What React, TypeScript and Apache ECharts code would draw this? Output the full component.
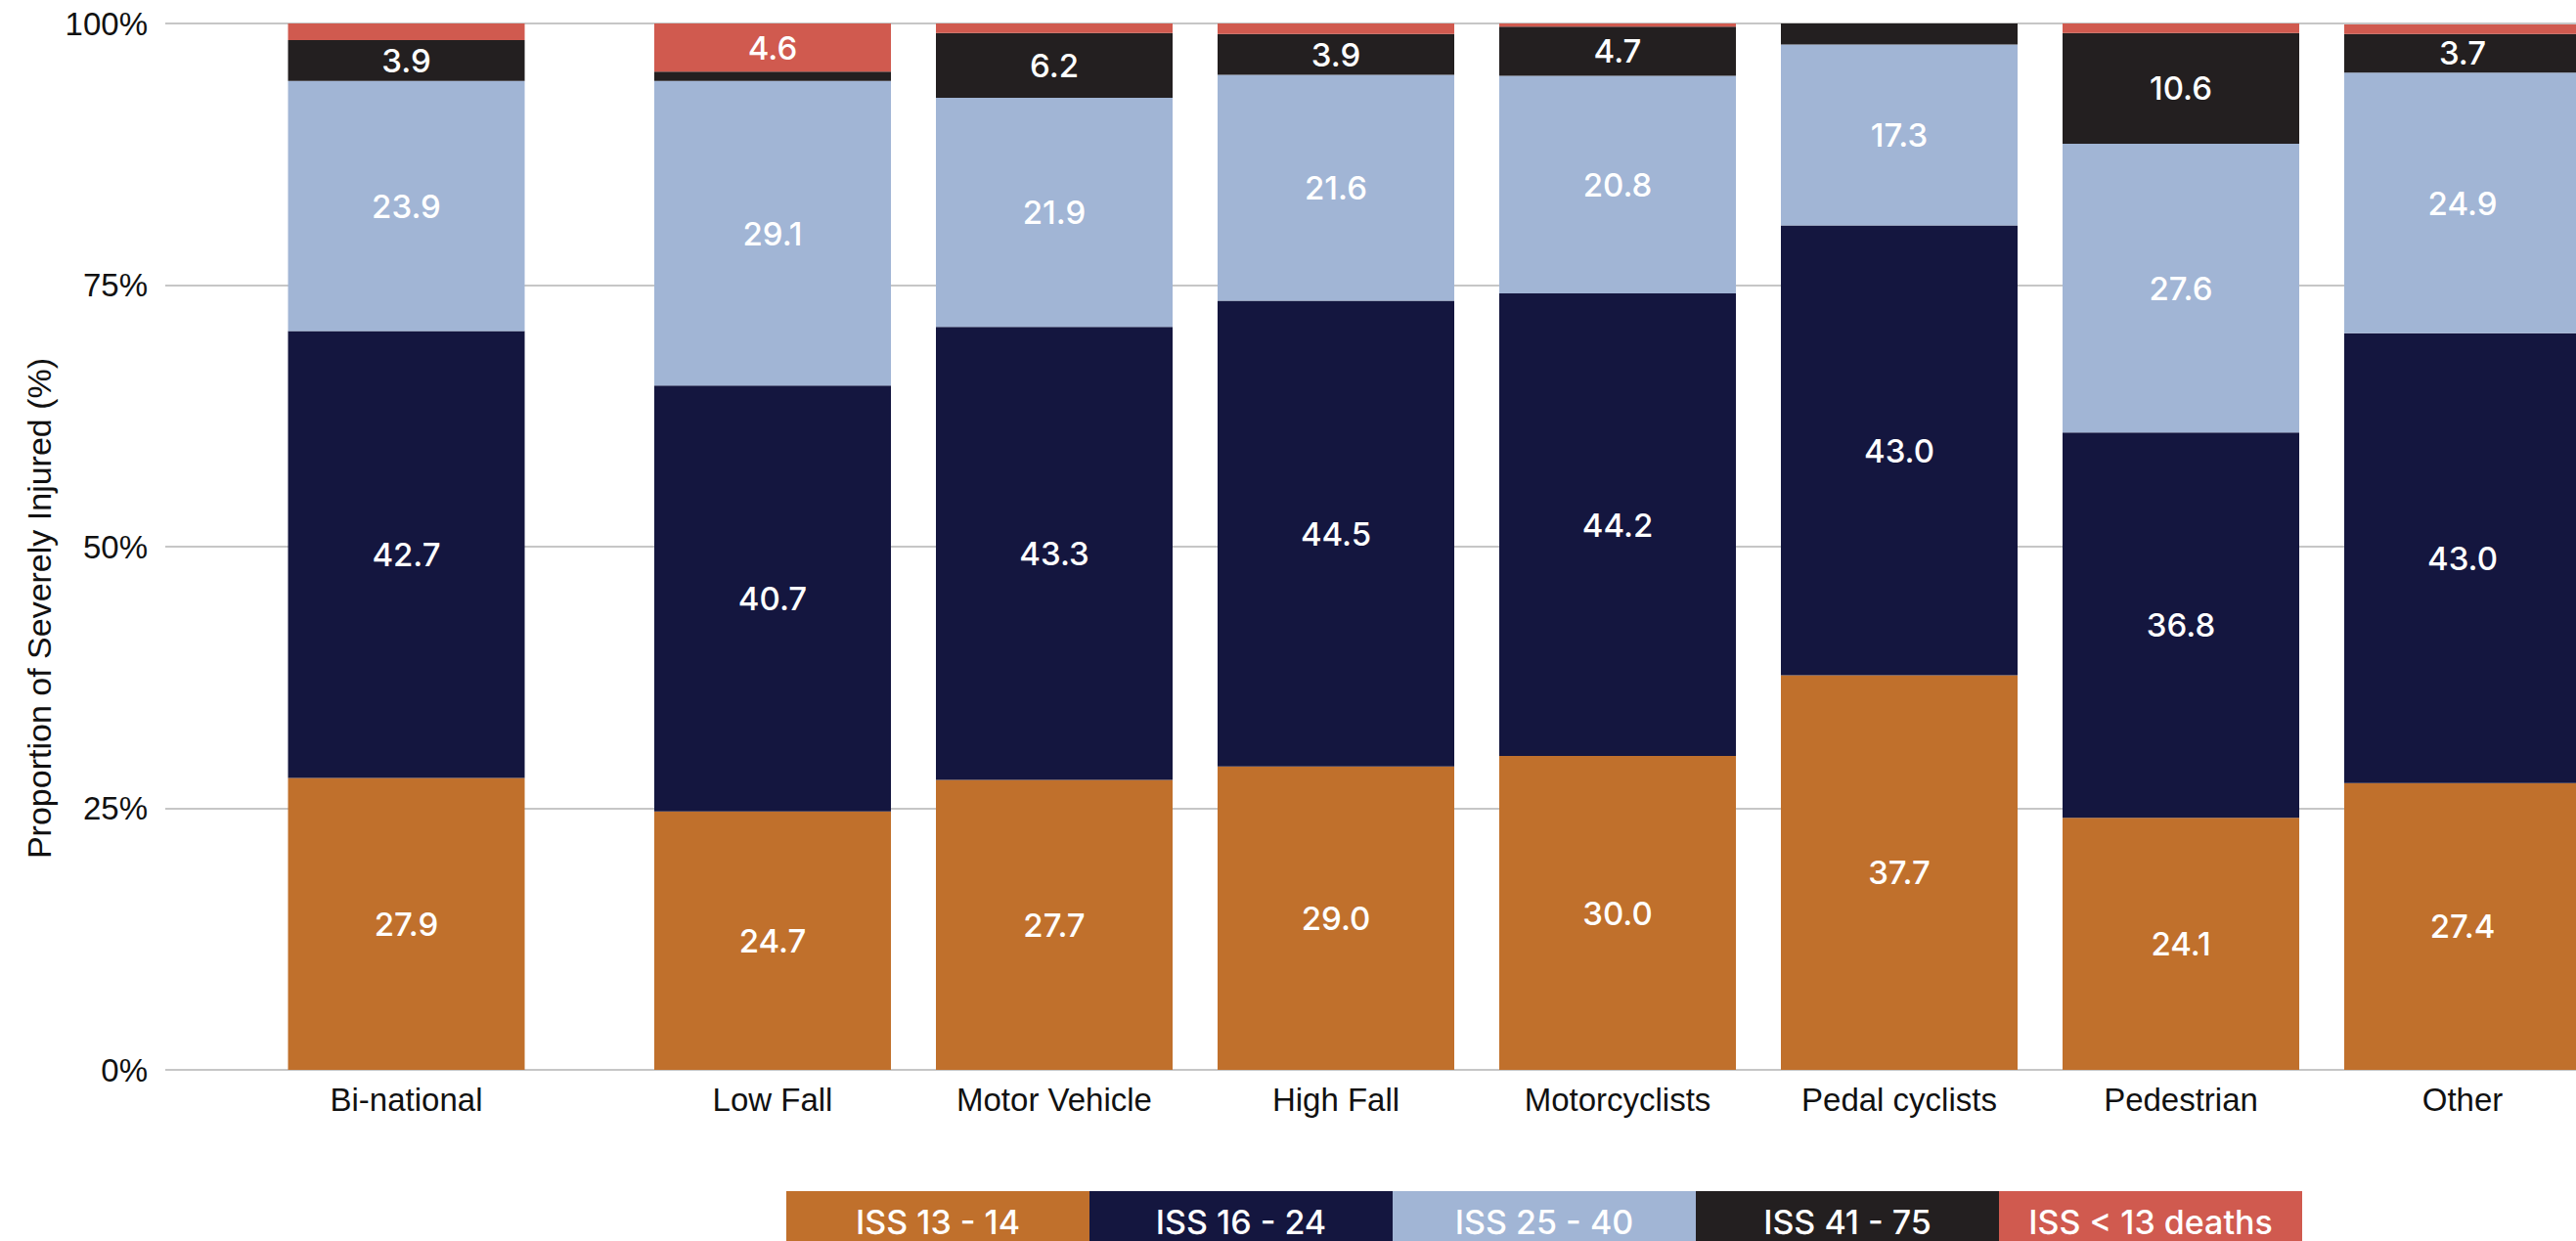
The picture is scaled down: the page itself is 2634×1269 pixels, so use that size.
import React, { useEffect, useRef } from 'react';
import * as echarts from 'echarts';

// Injury-severity mix by mechanism (percent of severely injured patients)
const categories = ['Bi-national', 'Low Fall', 'Motor Vehicle', 'High Fall', 'Motorcyclists', 'Pedal cyclists', 'Pedestrian', 'Other'];
const seriesNames = ['ISS 13 - 14', 'ISS 16 - 24', 'ISS 25 - 40', 'ISS 41 - 75', 'ISS < 13 deaths'];
const iss13to14 = [27.9, 24.7, 27.7, 29.0, 30.0, 37.7, 24.1, 27.4];
const iss16to24 = [42.7, 40.7, 43.3, 44.5, 44.2, 43.0, 36.8, 43.0];
const iss25to40 = [23.9, 29.1, 21.9, 21.6, 20.8, 17.3, 27.6, 24.9];
const iss41to75 = [3.9, 0.9, 6.2, 3.9, 4.7, 2.0, 10.6, 3.7];
const issUnder13Deaths = [1.6, 4.6, 0.9, 1.0, 0.3, 0.0, 0.9, 0.9];
const yTicks = [0, 25, 50, 75, 100];
const yTitle = 'Proportion of Severely Injured (%)';

const seriesValues = [iss13to14, iss16to24, iss25to40, iss41to75, issUnder13Deaths];
const palette = ['#c0702c', '#14163f', '#a1b5d5', '#231f20', '#d05a4f'];

const AXIS_FONT = "'Liberation Sans', Arial, Helvetica, sans-serif";
const LABEL_FONT = "Inter, 'Open Sans', sans-serif";
const VIEW_W = 2634;
const VIEW_H = 1269;
// The drawing surface runs a little past the visible frame so the last bar is cut at the edge.
const CANVAS_W = 2700;
const GRID_TOP = 24;
const GRID_HEIGHT = 1070;
const BAR_WIDTH = 242;
const LABEL_MIN = 3;

function buildOption() {
  const leadCats = categories.slice(0, 1);
  const restCats = categories.slice(1);

  const yAxisBase = {
    type: 'value',
    min: yTicks[0],
    max: yTicks[yTicks.length - 1],
    interval: yTicks[1] - yTicks[0],
    axisLine: { show: false },
    axisTick: { show: false },
    splitLine: { show: true, lineStyle: { color: '#c6c6c6', width: 2 } },
  };

  const xAxisBase = {
    type: 'category',
    axisLine: { show: false },
    axisTick: { show: false },
    axisLabel: {
      interval: 0,
      margin: 14,
      color: '#111',
      fontSize: 33,
      fontFamily: AXIS_FONT,
    },
  };

  const series: any[] = [];
  seriesValues.forEach((values, s) => {
    [0, 1].forEach((g) => {
      const data = g === 0 ? values.slice(0, 1) : values.slice(1);
      series.push({
        name: seriesNames[s],
        type: 'bar',
        stack: 'total-' + g,
        xAxisIndex: g,
        yAxisIndex: g,
        barWidth: BAR_WIDTH,
        clip: false,
        data,
        itemStyle: { color: palette[s] },
        label: {
          show: true,
          position: 'inside',
          color: '#ffffff',
          fontSize: 33,
          fontWeight: 500,
          fontFamily: LABEL_FONT,
          formatter: (p: any) => (p.value >= LABEL_MIN ? Number(p.value).toFixed(1) : ''),
        },
      });
    });
  });

  const legendLeft = 804;
  const legendTop = 1218;
  const legendW = 310;
  const legendH = 62;
  const legendItems = seriesNames.map((name, i) => ({
    type: 'group',
    x: legendLeft + i * legendW,
    y: legendTop,
    children: [
      { type: 'rect', shape: { x: 0, y: 0, width: legendW, height: legendH }, style: { fill: palette[i] } },
      {
        type: 'text',
        x: legendW / 2,
        y: legendH / 2,
        style: {
          text: name,
          fill: '#ffffff',
          fontSize: 34,
          fontWeight: 500,
          fontFamily: LABEL_FONT,
          align: 'center',
          verticalAlign: 'middle',
        },
      },
    ],
  }));

  return {
    animation: false,
    backgroundColor: '#ffffff',
    grid: [
      { left: 169, top: GRID_TOP, width: 493, height: GRID_HEIGHT },
      { left: 646, top: GRID_TOP, width: 2016, height: GRID_HEIGHT },
    ],
    xAxis: [
      { ...xAxisBase, gridIndex: 0, data: leadCats },
      { ...xAxisBase, gridIndex: 1, data: restCats },
    ],
    yAxis: [
      {
        ...yAxisBase,
        gridIndex: 0,
        axisLabel: {
          formatter: '{value}%',
          margin: 18,
          color: '#111',
          fontSize: 33,
          fontFamily: AXIS_FONT,
          padding: [16, 0, 0, 0],
        },
      },
      { ...yAxisBase, gridIndex: 1, axisLabel: { show: false } },
    ],
    series,
    graphic: [
      {
        type: 'text',
        x: 40,
        y: 622,
        rotation: Math.PI / 2,
        style: {
          text: yTitle,
          fill: '#111',
          fontSize: 34,
          fontFamily: AXIS_FONT,
          align: 'center',
          verticalAlign: 'middle',
        },
      },
      ...legendItems,
    ],
  };
}

export default function App() {
  const ref = useRef<HTMLDivElement>(null);

  useEffect(() => {
    if (!ref.current) return;
    const chart = echarts.init(ref.current, undefined, { renderer: 'svg' });
    chart.setOption(buildOption() as any);
    return () => chart.dispose();
  }, []);

  return (
    <div
      style={{
        position: 'fixed',
        left: 0,
        top: 0,
        width: VIEW_W,
        height: VIEW_H,
        overflow: 'hidden',
        background: '#fff',
      }}
    >
      <div ref={ref} style={{ position: 'absolute', left: 0, top: 0, width: CANVAS_W, height: VIEW_H }} />
    </div>
  );
}
